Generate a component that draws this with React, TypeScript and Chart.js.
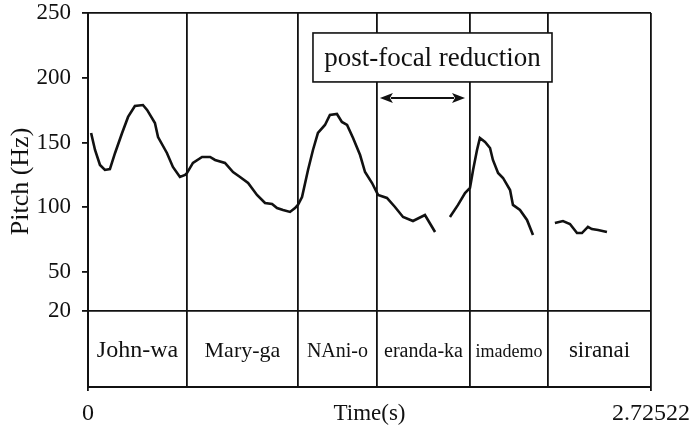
import React, { useEffect, useRef } from "react";
import { Chart, registerables } from "chart.js";

Chart.register(...registerables);

// ---------- data ----------
const TOTAL_TIME = 2.72522;
const Y_TICKS = [20, 50, 100, 150, 200, 250];
const Y_MAX = 250;
const Y_MIN = -38.6; // bottom of the word tier

const WORDS = ["John-wa", "Mary-ga", "NAni-o", "eranda-ka", "imademo", "siranai"];
const BOUNDARIES = [0, 0.479, 1.016, 1.399, 1.849, 2.227, 2.72522];

const TIMES = [
  0.015, 0.034, 0.058, 0.082, 0.106, 0.131, 0.165, 0.194, 0.227, 0.266, 0.286, 0.324, 0.339,
  0.382, 0.411, 0.445, 0.47, 0.479, 0.508, 0.552, 0.591, 0.615, 0.663, 0.702, 0.736, 0.775,
  0.818, 0.857, 0.891, 0.915, 0.944, 0.978, 1.002, 1.016, 1.036, 1.065, 1.089, 1.113, 1.147,
  1.171, 1.205, 1.229, 1.254, 1.283, 1.317, 1.341, 1.375, 1.404, 1.447, 1.486, 1.525, 1.573,
  1.631, 1.68,
  1.716,
  1.752, 1.791, 1.825, 1.849, 1.864, 1.883, 1.897, 1.922, 1.946, 1.96, 1.985, 2.009, 2.043,
  2.057, 2.091, 2.125, 2.154,
  2.2,
  2.26, 2.299, 2.333, 2.367, 2.391, 2.42, 2.439, 2.469, 2.512,
];
const PITCH: (number | null)[] = [
  157.4, 144.3, 132.7, 128.9, 129.6, 142, 157.4, 169.8, 178.2, 179, 175.2, 165.1, 154.3,
  142, 131.2, 123.5, 125, 126.5, 134.3, 138.9, 138.9, 136.6, 134.3, 127.3, 123.5, 118.8,
  109.6, 103.4, 102.6, 99.5, 98, 96.5, 99.5, 101.9, 108, 128.9, 144.3, 157.4, 163.6,
  171.3, 172.1, 165.9, 163.6, 153.5, 140.4, 127.3, 118.8, 109.6, 107.3, 100.3, 92.6, 89.5,
  94.1, 81,
  null,
  92.6, 101.9, 111.1, 115, 128.9, 144.3, 153.5, 150.5, 145.8, 136.6, 126.5, 122.7, 113.4,
  101.9, 98, 90.3, 78.7,
  null,
  88, 89.5, 87.2, 80.2, 80.2, 84.9, 83.3, 82.6, 81,
];

const ANNOTATION_TEXT = "post-focal reduction";
const ANNOT_BOX = { t0: 1.089, t1: 2.246, hzTop: 234.6, hzBottom: 196.8 };
const ANNOT_ARROW = { t0: 1.413, t1: 1.825, hz: 184.4 };

// ---------- styles ----------
const SERIF = '"Liberation Serif", "Times New Roman", serif';
const WORD_FONT_SIZES = [24, 22, 20, 20, 18, 23];
const Y_TITLE = "Pitch (Hz)";
const Y_TITLE_AT = 120;
const X_TITLE = "Time(s)";

const overlayPlugin = {
  id: "overlay",
  afterDraw(chart: any) {
    const { ctx, chartArea } = chart;
    const xs = chart.scales.x;
    const ys = chart.scales.y;
    ctx.save();
    ctx.fillStyle = "#111";
    // words in tier
    const tierTop = ys.getPixelForValue(20);
    const tierMid = (tierTop + chartArea.bottom) / 2;
    ctx.textAlign = "center";
    ctx.textBaseline = "alphabetic";
    WORDS.forEach((w, i) => {
      const cx = (xs.getPixelForValue(BOUNDARIES[i]) + xs.getPixelForValue(BOUNDARIES[i + 1])) / 2;
      ctx.font = `${WORD_FONT_SIZES[i]}px ${SERIF}`;
      ctx.fillText(w, cx, tierMid + 8);
    });

    // y title
    ctx.save();
    ctx.translate(21, ys.getPixelForValue(Y_TITLE_AT));
    ctx.rotate(-Math.PI / 2);
    ctx.font = `26px ${SERIF}`;
    ctx.textAlign = "center";
    ctx.textBaseline = "middle";
    ctx.fillText(Y_TITLE, 0, 0);
    ctx.restore();

    // annotation box
    const bx0 = xs.getPixelForValue(ANNOT_BOX.t0);
    const bx1 = xs.getPixelForValue(ANNOT_BOX.t1);
    const by0 = ys.getPixelForValue(ANNOT_BOX.hzTop);
    const by1 = ys.getPixelForValue(ANNOT_BOX.hzBottom);
    ctx.fillStyle = "#fff";
    ctx.fillRect(bx0, by0, bx1 - bx0, by1 - by0);
    ctx.strokeStyle = "#111";
    ctx.lineWidth = 1.6;
    ctx.strokeRect(bx0, by0, bx1 - bx0, by1 - by0);
    ctx.fillStyle = "#111";
    ctx.font = `27px ${SERIF}`;
    ctx.textAlign = "center";
    ctx.textBaseline = "middle";
    ctx.fillText(ANNOTATION_TEXT, (bx0 + bx1) / 2, (by0 + by1) / 2 + 1);

    // double arrow
    const ax0 = xs.getPixelForValue(ANNOT_ARROW.t0);
    const ax1 = xs.getPixelForValue(ANNOT_ARROW.t1);
    const ay = ys.getPixelForValue(ANNOT_ARROW.hz);
    const head = 13;
    const hw = 5;
    ctx.lineWidth = 2;
    ctx.beginPath();
    ctx.moveTo(ax0 + head - 2, ay);
    ctx.lineTo(ax1 - head + 2, ay);
    ctx.stroke();
    ctx.beginPath();
    ctx.moveTo(ax0, ay);
    ctx.lineTo(ax0 + head, ay - hw);
    ctx.lineTo(ax0 + head - 3, ay);
    ctx.lineTo(ax0 + head, ay + hw);
    ctx.closePath();
    ctx.fill();
    ctx.beginPath();
    ctx.moveTo(ax1, ay);
    ctx.lineTo(ax1 - head, ay - hw);
    ctx.lineTo(ax1 - head + 3, ay);
    ctx.lineTo(ax1 - head, ay + hw);
    ctx.closePath();
    ctx.fill();
    ctx.restore();
  },
};

const isEnd = (v: number) => Math.abs(v - TOTAL_TIME) < 1e-6;

export default function App() {
  const ref = useRef<HTMLCanvasElement | null>(null);
  useEffect(() => {
    if (!ref.current) return;
    const points = TIMES.map((t, i) => ({ x: t, y: PITCH[i] }));
    const chart = new Chart(ref.current, {
      type: "line",
      data: {
        datasets: [
          {
            data: points as any,
            borderColor: "#111",
            borderWidth: 2.6,
            pointRadius: 0,
            tension: 0,
            spanGaps: false,
            fill: false,
          },
        ],
      },
      options: {
        animation: false,
        responsive: false,
        events: [],
        layout: { padding: { left: 0, top: 13, right: 44, bottom: 0 } },
        plugins: { legend: { display: false }, tooltip: { enabled: false } },
        scales: {
          x: {
            type: "linear",
            min: 0,
            max: TOTAL_TIME,
            afterBuildTicks: (s: any) => {
              s.ticks = BOUNDARIES.map((v) => ({ value: v }));
            },
            afterFit: (s: any) => {
              s.height = 44;
              s.paddingLeft = 0;
              s.paddingRight = 0;
              s.paddingTop = 0;
              s.paddingBottom = 0;
            },
            ticks: {
              autoSkip: false,
              maxRotation: 0,
              padding: 11,
              color: "#111",
              font: { family: SERIF, size: 24, lineHeight: 1 },
              callback: (v: any) => (v === 0 ? "0" : isEnd(Number(v)) ? "2.72522" : ""),
            },
            grid: {
              drawOnChartArea: true,
              color: "#111",
              lineWidth: 1.8,
              tickLength: 4,
              tickColor: (c: any) =>
                c.tick && (c.tick.value === 0 || isEnd(c.tick.value)) ? "#111" : "rgba(0,0,0,0)",
            },
            border: { display: true, color: "#111", width: 2 },
            title: {
              display: true,
              text: X_TITLE,
              color: "#111",
              font: { family: SERIF, size: 23, lineHeight: 1.2 },
              padding: { top: 0, bottom: 3 },
            },
          },
          y: {
            type: "linear",
            min: Y_MIN,
            max: Y_MAX,
            afterBuildTicks: (s: any) => {
              s.ticks = Y_TICKS.map((v) => ({ value: v }));
            },
            afterFit: (s: any) => {
              s.width = 88;
              s.paddingTop = 0;
              s.paddingBottom = 0;
              s.paddingLeft = 0;
              s.paddingRight = 0;
            },
            ticks: {
              padding: 11,
              color: "#111",
              font: { family: SERIF, size: 23, lineHeight: 1 },
            },
            grid: {
              drawOnChartArea: true,
              color: (c: any) =>
                c.tick && (c.tick.value === 20 || c.tick.value === Y_MAX) ? "#111" : "rgba(0,0,0,0)",
              lineWidth: 1.8,
              tickLength: 6,
              tickColor: "#111",
            },
            border: { display: true, color: "#111", width: 2 },
          },
        },
      },
      plugins: [overlayPlugin],
    });
    return () => chart.destroy();
  }, []);
  return (
    <div style={{ position: "fixed", left: 0, top: 0, width: 695, height: 431, background: "#fff" }}>
      <canvas ref={ref} width={695} height={431} />
    </div>
  );
}
